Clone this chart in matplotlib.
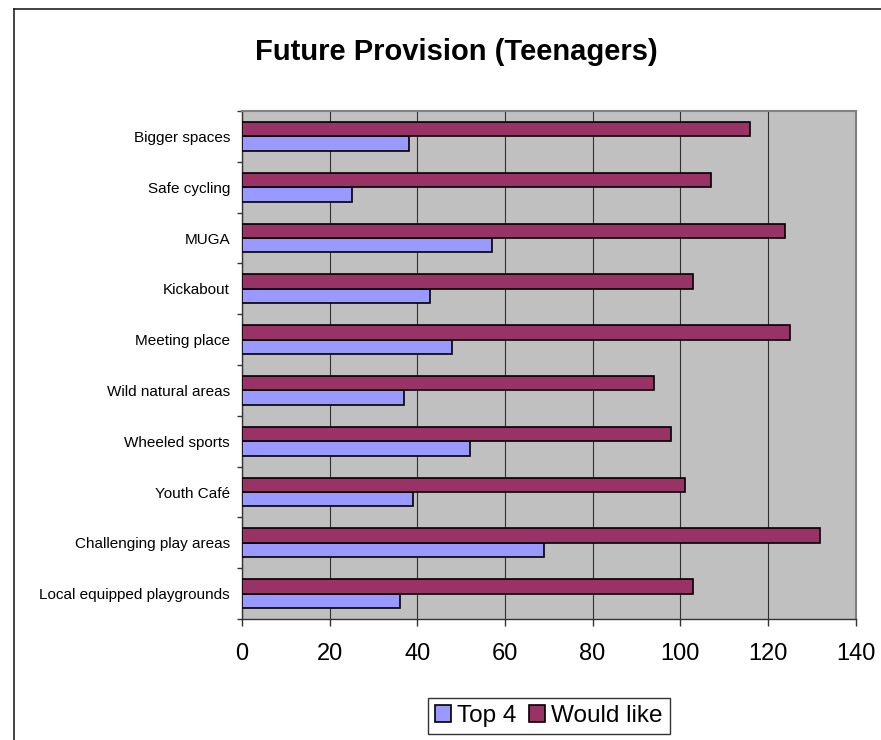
import matplotlib
matplotlib.use("Agg")
import matplotlib.pyplot as plt
from matplotlib.lines import Line2D
from matplotlib.patches import Patch
import numpy as np

plt.rcParams['font.family'] = ['Liberation Sans', 'DejaVu Sans']

# Categories listed bottom to top
categories = [
    "Local equipped playgrounds",
    "Challenging play areas",
    "Youth Café",
    "Wheeled sports",
    "Wild natural areas",
    "Meeting place",
    "Kickabout",
    "MUGA",
    "Safe cycling",
    "Bigger spaces",
]
top4 = [36, 69, 39, 52, 37, 48, 43, 57, 25, 38]
would_like = [103, 132, 101, 98, 94, 125, 103, 124, 107, 116]
x_ticks = [0, 20, 40, 60, 80, 100, 120, 140]

W, H = 881, 740
fig = plt.figure(figsize=(W / 100, H / 100), dpi=100)
fig.patch.set_facecolor("white")

# plot area in pixel coordinates
left_px, right_px, top_px, bottom_px = 242, 855.5, 111, 619
ax = fig.add_axes([left_px / W, 1 - bottom_px / H,
                   (right_px - left_px) / W, (bottom_px - top_px) / H])
ax.set_facecolor("#C0C0C0")

y = np.arange(len(categories))
h = 0.285
ax.barh(y - h / 2, top4, height=h, color="#9999FF", edgecolor="black",
        linewidth=1.2, label="Top 4", zorder=3)
ax.barh(y + h / 2, would_like, height=h, color="#993366", edgecolor="black",
        linewidth=1.2, label="Would like", zorder=3)

ax.set_xlim(0, 140)
ax.set_ylim(-0.5, len(categories) - 0.5)

ax.set_xticks(x_ticks)
ax.set_xticklabels([str(v) for v in x_ticks], fontsize=17)
ax.tick_params(axis="x", direction="out", length=5, width=1, color="#333333",
               pad=12)

# category boundaries carry the ticks, centres carry the labels
ax.set_yticks(np.arange(-0.5, len(categories), 1.0))
ax.set_yticklabels([])
ax.set_yticks(y, minor=True)
ax.set_yticklabels(categories, minor=True, fontsize=11)
ax.tick_params(axis="y", which="major", direction="out", length=3.6, width=1,
               color="#333333")
ax.tick_params(axis="y", which="minor", length=0, pad=8.6)

ax.grid(axis="x", color="#303030", linewidth=0.8, zorder=1)
ax.set_axisbelow(True)

for side in ("top", "right"):
    ax.spines[side].set_color("#808080")
    ax.spines[side].set_linewidth(1.5)
for side in ("left", "bottom"):
    ax.spines[side].set_color("#333333")
    ax.spines[side].set_linewidth(1)

fig.text(456.5 / W, 1 - 60 / H, "Future Provision (Teenagers)",
         ha="center", va="baseline", fontsize=21, fontweight="bold")

handles = [Patch(facecolor="#9999FF", edgecolor="black", linewidth=1.2),
           Patch(facecolor="#993366", edgecolor="black", linewidth=1.2)]
leg = fig.legend(handles, ["Top 4", "Would like"], ncol=2,
                 loc="center", bbox_to_anchor=(548.7 / W, 1 - 716 / H),
                 fontsize=17.5, frameon=True, fancybox=False, shadow=False,
                 handlelength=0.66, handleheight=0.7, handletextpad=0.25,
                 columnspacing=0.5, borderpad=0.3, borderaxespad=0)
leg.get_frame().set_edgecolor("black")
leg.get_frame().set_linewidth(1)

# chart area border (left and top edges)
fig.add_artist(Line2D([14 / W, 14 / W], [0, 1 - 9 / H], color="#222222",
                      linewidth=1.2, transform=fig.transFigure))
fig.add_artist(Line2D([14 / W, 1], [1 - 9 / H, 1 - 9 / H], color="#222222",
                      linewidth=1.2, transform=fig.transFigure))

fig.savefig("out.png", dpi=100, facecolor="white")
